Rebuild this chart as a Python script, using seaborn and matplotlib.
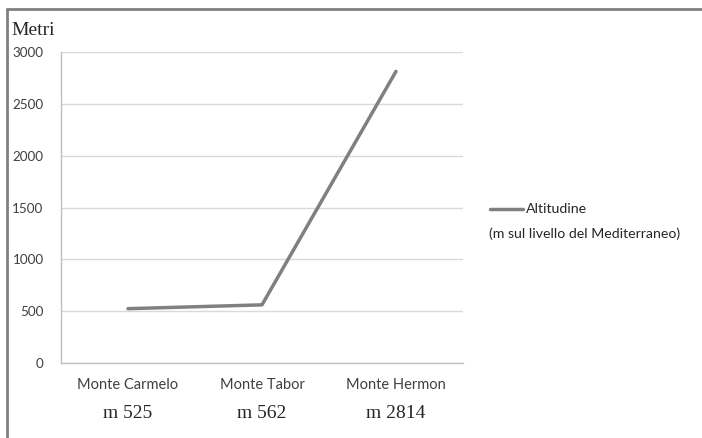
import matplotlib
matplotlib.use("Agg")
import matplotlib.pyplot as plt
import seaborn as sns
import pandas as pd
from matplotlib.lines import Line2D

# dati: altitudine dei monti
monti = ["Monte Carmelo", "Monte Tabor", "Monte Hermon"]
altitudine = [525, 562, 2814]
y_ticks = [0, 500, 1000, 1500, 2000, 2500, 3000]

df = pd.DataFrame({"monte": monti, "altitudine": altitudine})

sns.set_style("white")
plt.rcParams["font.family"] = ["Lato", "DejaVu Sans"]
serif = ["Liberation Serif", "DejaVu Serif"]

fig = plt.figure(figsize=(7.02, 4.38), dpi=100)
ax = fig.add_axes([0.0869, 0.171, 0.5726, 0.710])

line_col = "#808080"
sns.lineplot(data=df, x="monte", y="altitudine", ax=ax, color=line_col,
             linewidth=2.5, sort=False)

ax.set_xlim(-0.5, 2.5)
ax.set_ylim(0, 3000)
ax.set_yticks(y_ticks)
ax.set_yticklabels([str(v) for v in y_ticks], color="#404040", fontsize=9.7)
ax.yaxis.grid(True, color="#d9d9d9", linewidth=1)
ax.set_axisbelow(True)

# tick della x ai confini delle categorie
ax.set_xticks([-0.5, 0.5, 1.5, 2.5])
ax.set_xticklabels([])
ax.set_xticks(range(len(monti)), minor=True)
ax.set_xticklabels(monti, minor=True, color="#404040", fontsize=10.5)
ax.tick_params(axis="x", which="minor", length=0, pad=11)
ax.tick_params(axis="x", which="major", length=5, color="#bfbfbf", direction="out")
ax.tick_params(axis="y", length=5, color="#bfbfbf", direction="out", pad=7.5)

for s in ["top", "right"]:
    ax.spines[s].set_visible(False)
for s in ["left", "bottom"]:
    ax.spines[s].set_color("#bfbfbf")
    ax.spines[s].set_linewidth(1)

# seconda riga delle etichette: altitudine in metri
for i, v in enumerate(altitudine):
    ax.text(i, -0.162, f"m {v}", transform=ax.get_xaxis_transform(),
            ha="center", va="center", fontsize=14, color="#262626",
            family=serif)

ax.set_ylabel("")
ax.set_xlabel("")
fig.text(0.016, 0.930, "Metri", fontsize=14, color="#262626",
         family=serif, va="center")

# legenda
fig.add_artist(Line2D([0.698, 0.745], [0.523, 0.523], color=line_col,
                      linewidth=2.5, transform=fig.transFigure))
fig.text(0.749, 0.523, "Altitudine", fontsize=10.2, color="#262626", va="center")
fig.text(0.697, 0.466, "(m sul livello del Mediterraneo)", fontsize=10.2,
         color="#262626", va="center")

# cornice
border = "#808080"
fig.add_artist(Line2D([0.010, 0.010], [0.0, 0.980], color=border,
                      linewidth=2, transform=fig.transFigure))
fig.add_artist(Line2D([0.010, 1.0], [0.980, 0.980], color=border,
                      linewidth=2, transform=fig.transFigure))

fig.savefig("out.png", dpi=100)
